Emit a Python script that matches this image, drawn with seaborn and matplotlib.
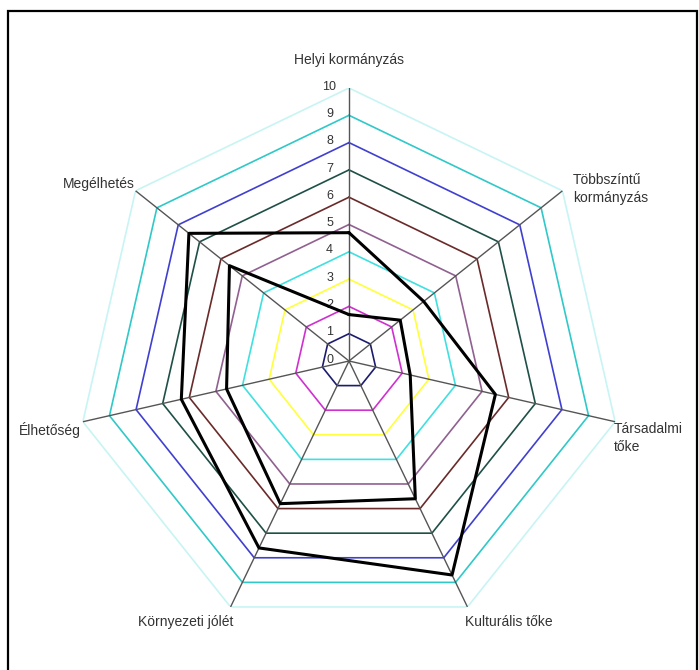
import numpy as np
import pandas as pd
import matplotlib
matplotlib.use("Agg")
import matplotlib.pyplot as plt
import seaborn as sns

# axes clockwise from the top
categories = ["Helyi kormányzás", "Többszíntű\nkormányzás", "Társadalmi\ntőke",
              "Kulturális tőke", "Környezeti jólét", "Élhetőség", "Megélhetés"]
series_a = [4.7, 3.5, 5.5, 8.7, 7.6, 6.3, 7.5]
series_b = [1.7, 2.4, 2.3, 5.6, 5.8, 4.6, 5.6]
levels = [1, 2, 3, 4, 5, 6, 7, 8, 9, 10]
level_colors = ["#1c1c6e", "#d030d0", "#ffff3c", "#40e0e0", "#906090",
                "#6a2a2a", "#1f5048", "#4040d0", "#30c8c8", "#c8f4f4"]
tick_labels = [str(i) for i in range(11)]

sns.set_style("white")
plt.rcParams['font.family'] = ['Liberation Sans', 'DejaVu Sans']

W, H = 699, 670
fig = plt.figure(figsize=(W / 100, H / 100), dpi=100)
cx, cy, R = 349, 361, 273
ax = fig.add_axes([(cx - R) / W, (H - cy - R) / H, 2 * R / W, 2 * R / H],
                  projection='polar')
ax.set_theta_zero_location('N')
ax.set_theta_direction(-1)

n = len(categories)
angles = list(np.linspace(0, 2 * np.pi, n, endpoint=False))
closed = angles + [angles[0]]

# level polygons
for lv, col in zip(levels, level_colors):
    ax.plot(closed, [lv] * (n + 1), color=col, lw=1.2, zorder=2)

# spokes
for a in angles:
    ax.plot([a, a], [0, 10], color='#555555', lw=1.0, zorder=3)

df = pd.DataFrame({
    "theta": closed + closed,
    "value": series_a + series_a[:1] + series_b + series_b[:1],
    "series": ["a"] * (n + 1) + ["b"] * (n + 1),
})
sns.lineplot(data=df, x="theta", y="value", hue="series",
             palette=["black", "black"], sort=False, estimator=None,
             legend=False, linewidth=2.2, ax=ax, zorder=4)

ax.set_ylim(0, 10)
ax.set_xticks([])
ax.set_yticks([])
ax.grid(False)
ax.spines['polar'].set_visible(False)
ax.set_xlabel("")
ax.set_ylabel("")
ax.patch.set_alpha(0)

for v, t in enumerate(tick_labels):
    ax.annotate(t, xy=(0, v), xytext=(-14, 1), textcoords='offset points',
                ha='center', va='center', fontsize=9, color='#333333')

tc = '#333333'
fs = 10
fig.text(349 / W, 1 - 60 / H, categories[0], ha='center', va='center', fontsize=fs, color=tc)
fig.text(573 / W, 1 - 189 / H, categories[1], ha='left', va='center', fontsize=fs, color=tc,
         linespacing=1.35)
fig.text(614 / W, 1 - 438 / H, categories[2], ha='left', va='center', fontsize=fs, color=tc,
         linespacing=1.35)
fig.text(465 / W, 1 - 622 / H, categories[3], ha='left', va='center', fontsize=fs, color=tc)
fig.text(233 / W, 1 - 622 / H, categories[4], ha='right', va='center', fontsize=fs, color=tc)
fig.text(81 / W, 1 - 430 / H, categories[5], ha='right', va='center', fontsize=fs, color=tc)
fig.text(135 / W, 1 - 184 / H, categories[6], ha='right', va='center', fontsize=fs, color=tc)

fig.add_artist(plt.Rectangle((8 / W, -0.01), (697 - 8) / W, 1.01 - 11 / H, fill=False,
                             ec='black', lw=1.6, transform=fig.transFigure))

fig.savefig("out.png", dpi=100)
